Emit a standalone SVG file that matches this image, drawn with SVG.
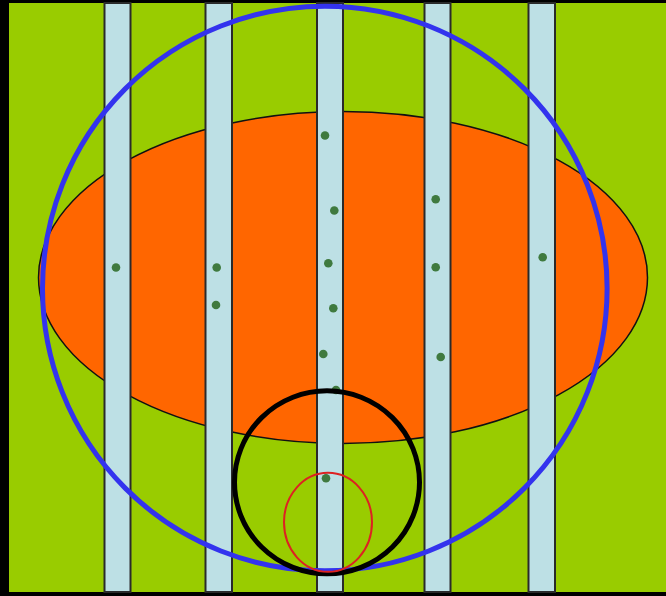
<svg xmlns="http://www.w3.org/2000/svg" width="666" height="596" viewBox="0 0 666 596">
  <style>
    .stripe { fill: #bde0e5; stroke: #2a2a2a; stroke-width: 2; }
    .dot { fill: #3f7a3f; }
  </style>
  <rect x="0" y="0" width="666" height="596" fill="#000"/>
  <rect id="field" x="9" y="3" width="657" height="589" fill="#99cc00"/>
  <ellipse id="orange" cx="343" cy="277.5" rx="304.5" ry="166" fill="#ff6600" stroke="#111" stroke-width="1.5"/>
  <g id="stripes">
    <rect class="stripe" x="104.5" y="3" width="26" height="589"/>
    <rect class="stripe" x="205.5" y="3" width="26.5" height="589"/>
    <rect class="stripe" x="317" y="3" width="26" height="589"/>
    <rect class="stripe" x="424.5" y="3" width="26" height="589"/>
    <rect class="stripe" x="528.5" y="3" width="26.5" height="589"/>
  </g>
  <g id="dots">
    <circle class="dot" cx="116" cy="267.5" r="4.3"/>
    <circle class="dot" cx="216.7" cy="267.5" r="4.3"/>
    <circle class="dot" cx="216" cy="305" r="4.3"/>
    <circle class="dot" cx="325" cy="135.5" r="4.3"/>
    <circle class="dot" cx="334.3" cy="210.5" r="4.3"/>
    <circle class="dot" cx="328.3" cy="263.3" r="4.3"/>
    <circle class="dot" cx="333.3" cy="308.3" r="4.3"/>
    <circle class="dot" cx="323.3" cy="354" r="4.3"/>
    <circle class="dot" cx="336" cy="390" r="4.3"/>
    <circle class="dot" cx="326" cy="478.3" r="4.3"/>
    <circle class="dot" cx="435.7" cy="199.3" r="4.3"/>
    <circle class="dot" cx="435.7" cy="267.3" r="4.3"/>
    <circle class="dot" cx="440.7" cy="357" r="4.3"/>
    <circle class="dot" cx="542.7" cy="257.3" r="4.3"/>
  </g>
  <circle id="blue-circle" cx="324.8" cy="288.5" r="282.3" fill="none" stroke="#3333ee" stroke-width="5"/>
  <ellipse id="black-circle" cx="327" cy="482.3" rx="92.5" ry="91.5" fill="none" stroke="#000" stroke-width="5"/>
  <ellipse id="red-ellipse" cx="328" cy="522.3" rx="44" ry="49.5" fill="none" stroke="#dd2222" stroke-width="2"/>
</svg>
